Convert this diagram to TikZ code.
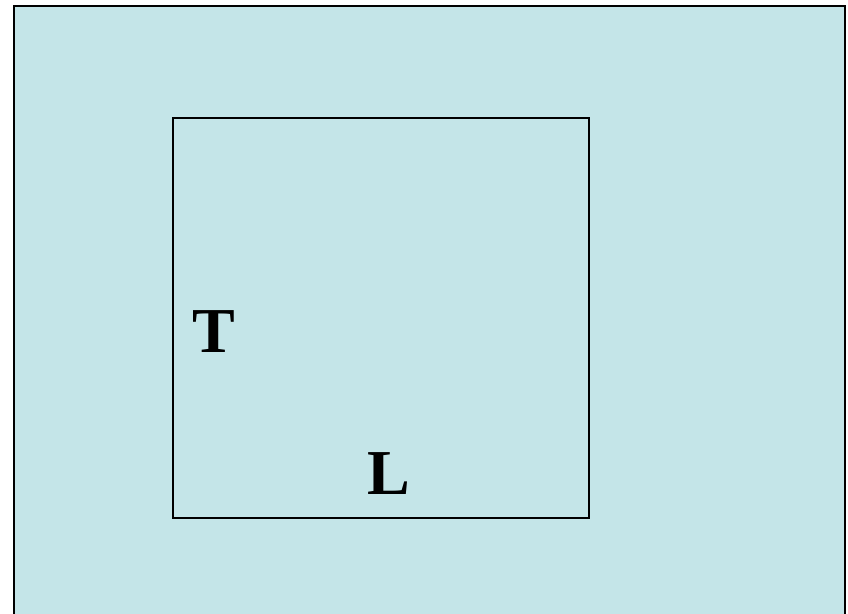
\documentclass[tikz,border=0pt]{standalone}
\usepackage{fontspec}
\setmainfont{Liberation Serif}
\definecolor{bgc}{HTML}{C4E5E8}
\begin{document}
\begin{tikzpicture}[x=1pt,y=-1pt,
  frame/.style={draw=black,line width=2pt,fill=bgc},
  box/.style={draw=black,line width=1.2pt,minimum width=416pt,minimum height=400pt,inner sep=0pt},
  lbl/.style={font=\bfseries\fontsize{64}{64}\selectfont,inner sep=0pt,anchor=base}]
\useasboundingbox (0,0) rectangle (848,613);
\path[frame] (13.5,6) rectangle (845,640);
\node[box] (sq) at (381,318) {};
\node[lbl] (T) at (214,352) {T};
\node[lbl] (L) at (389,494) {L};
\end{tikzpicture}
\end{document}
